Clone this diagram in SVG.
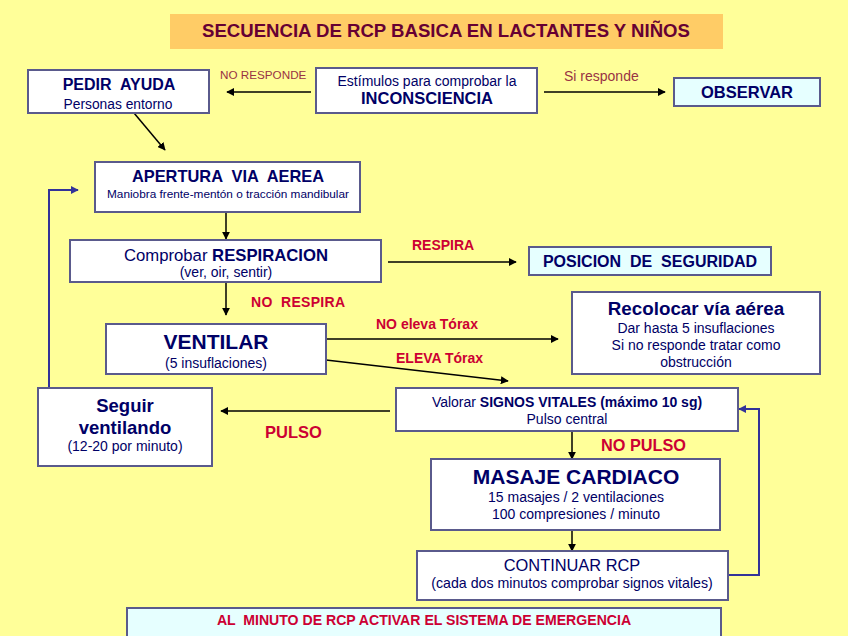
<svg xmlns="http://www.w3.org/2000/svg" width="848" height="636" viewBox="0 0 848 636">
<defs>
<marker id="ah" viewBox="0 0 10 10" refX="9" refY="5" markerWidth="8" markerHeight="8" markerUnits="userSpaceOnUse" orient="auto"><path d="M0,0 L10,5 L0,10 z" fill="#000"/></marker>
<marker id="ahb" viewBox="0 0 10 10" refX="9" refY="5" markerWidth="8" markerHeight="8" markerUnits="userSpaceOnUse" orient="auto"><path d="M0,0 L10,5 L0,10 z" fill="#333399"/></marker>
<style>
text{font-family:"Liberation Sans",Arial,sans-serif;fill:#000066;text-anchor:middle}
.box{fill:#fff;stroke:#5A5A8C;stroke-width:2}
.cyan{fill:#E6FFFF;stroke:#5A5A8C;stroke-width:2}
.b{font-weight:bold}
.lbl{font-weight:bold;fill:#CC0033;text-anchor:start}
.lbl2{fill:#993344;text-anchor:start}
.c{stroke:#000;stroke-width:1.5;fill:none;marker-end:url(#ah)}
.cb{stroke:#333399;stroke-width:2;fill:none;marker-end:url(#ahb)}
</style>
</defs>
<rect width="848" height="636" fill="#FFFF99"/>
<g id="title">
<rect x="170" y="14" width="553" height="35" fill="#FFCC66"/>
<text x="446" y="37" class="b" font-size="18.6" style="fill:#660033">SECUENCIA DE RCP BASICA EN LACTANTES Y NIÑOS</text>
</g>
<g id="connectors">
<line class="c" x1="311" y1="92" x2="227" y2="92"/>
<line class="c" x1="544" y1="92" x2="665" y2="92"/>
<line class="c" x1="134" y1="113" x2="165" y2="150"/>
<line class="c" x1="226" y1="212" x2="226" y2="239"/>
<line class="c" x1="226" y1="282" x2="226" y2="315"/>
<line class="c" x1="388" y1="262" x2="516" y2="262"/>
<line class="c" x1="326" y1="339" x2="558" y2="339"/>
<line class="c" x1="326" y1="360" x2="508" y2="381"/>
<line class="c" x1="390" y1="411" x2="221" y2="411"/>
<polyline class="cb" points="49,388 49,190 78,190"/>
<line class="c" x1="572" y1="431" x2="572" y2="459"/>
<line class="c" x1="572" y1="530" x2="572" y2="551"/>
<polyline class="cb" points="728,575 759,575 759,409 739,409"/>
<text x="220" y="79" class="lbl2" font-size="11.7">NO RESPONDE</text>
<text x="564" y="81" class="lbl2" font-size="14">Si responde</text>
<text x="412" y="250" class="lbl" font-size="14">RESPIRA</text>
<text x="251" y="307" class="lbl" font-size="14" letter-spacing="0.3" xml:space="preserve">NO  RESPIRA</text>
<text x="376" y="329" class="lbl" font-size="14">NO eleva Tórax</text>
<text x="396" y="363" class="lbl" font-size="14">ELEVA Tórax</text>
<text x="265" y="438" class="lbl" font-size="16.5">PULSO</text>
<text x="601" y="451" class="lbl" font-size="16.3">NO PULSO</text>
</g>
<g id="pedir">
<rect class="box" x="28" y="70" width="181" height="43"/>
<text x="119" y="90" class="b" font-size="16" xml:space="preserve">PEDIR  AYUDA</text>
<text x="118" y="109" font-size="13.8">Personas entorno</text>
</g>
<g id="estimulos">
<rect class="box" x="316" y="68" width="221" height="45"/>
<text x="427" y="86" font-size="14">Estímulos para comprobar la</text>
<text x="427" y="104" class="b" font-size="16.5">INCONSCIENCIA</text>
</g>
<g id="observar">
<rect class="cyan" x="674" y="78" width="146" height="28"/>
<text x="747" y="98" class="b" font-size="16.5">OBSERVAR</text>
</g>
<g id="apertura">
<rect class="box" x="95" y="162" width="265" height="50"/>
<text x="228" y="182" class="b" font-size="16.4" xml:space="preserve">APERTURA  VIA  AEREA</text>
<text x="228" y="198" font-size="11.8">Maniobra frente-mentón o tracción mandibular</text>
</g>
<g id="respiracion">
<rect class="box" x="70" y="240" width="311" height="42"/>
<text x="226" y="261" font-size="16.7">Comprobar <tspan class="b">RESPIRACION</tspan></text>
<text x="226" y="277" font-size="14">(ver, oir, sentir)</text>
</g>
<g id="posicion">
<rect class="cyan" x="529" y="247" width="242" height="28"/>
<text x="650" y="267" class="b" font-size="16" xml:space="preserve">POSICION  DE  SEGURIDAD</text>
</g>
<g id="ventilar">
<rect class="box" x="106" y="324" width="220" height="50"/>
<text x="216" y="349" class="b" font-size="21">VENTILAR</text>
<text x="216" y="368" font-size="14">(5 insuflaciones)</text>
</g>
<g id="recolocar">
<rect class="box" x="572" y="292" width="248" height="82"/>
<text x="696" y="315" class="b" font-size="18.8">Recolocar vía aérea</text>
<text x="696" y="333" font-size="14">Dar hasta 5 insuflaciones</text>
<text x="696" y="350" font-size="14">Si no responde tratar como</text>
<text x="696" y="367" font-size="14">obstrucción</text>
</g>
<g id="valorar">
<rect class="box" x="396" y="388" width="342" height="43"/>
<text x="567" y="407" font-size="14">Valorar <tspan class="b">SIGNOS VITALES (máximo 10 sg)</tspan></text>
<text x="567" y="424" font-size="14">Pulso central</text>
</g>
<g id="seguir">
<rect class="box" x="38" y="388" width="174" height="78"/>
<text x="125" y="412" class="b" font-size="18.5">Seguir</text>
<text x="125" y="434" class="b" font-size="18.5">ventilando</text>
<text x="125" y="451" font-size="14">(12-20 por minuto)</text>
</g>
<g id="masaje">
<rect class="box" x="431" y="459" width="289" height="71"/>
<text x="576" y="484" class="b" font-size="21">MASAJE CARDIACO</text>
<text x="576" y="502" font-size="14">15 masajes / 2 ventilaciones</text>
<text x="576" y="519" font-size="14">100 compresiones / minuto</text>
</g>
<g id="continuar">
<rect class="box" x="417" y="551" width="311" height="49"/>
<text x="572" y="571" font-size="16.4">CONTINUAR RCP</text>
<text x="572" y="588" font-size="14.2">(cada dos minutos comprobar signos vitales)</text>
</g>
<g id="alminuto">
<rect class="cyan" x="127" y="608" width="594" height="32"/>
<text x="424" y="625" class="b" font-size="14.1" xml:space="preserve" style="fill:#CC0033">AL  MINUTO DE RCP ACTIVAR EL SISTEMA DE EMERGENCIA</text>
</g>
</svg>
